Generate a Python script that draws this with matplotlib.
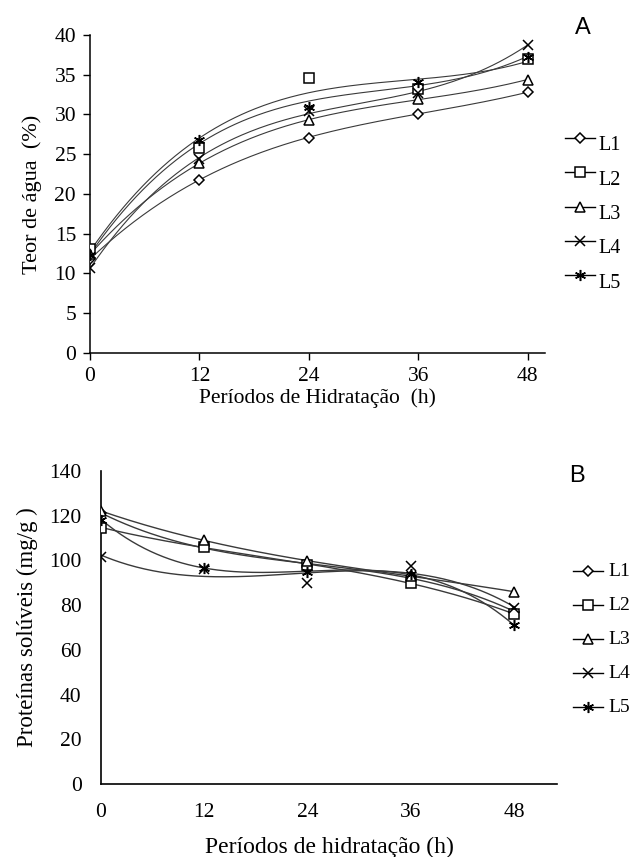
"""Teor de água (A) e proteínas solúveis (B) ao longo da hidratação, lotes L1-L5."""

import matplotlib

matplotlib.use("Agg")
import matplotlib.pyplot as plt  # noqa: E402
import numpy as np  # noqa: E402
from matplotlib.lines import Line2D  # noqa: E402

plt.rcParams["font.family"] = ["Liberation Serif", "DejaVu Serif"]

HOURS = [0, 12, 24, 36, 48]
LOTS = ["L1", "L2", "L3", "L4", "L5"]

# A) teor de água (%)
WATER_L1 = [11.8, 21.8, 27.1, 30.1, 32.8]
WATER_L2 = [13.1, 25.8, 34.6, 33.2, 37.0]
WATER_L3 = [12.4, 23.9, 29.3, 31.9, 34.4]
WATER_L4 = [10.7, 24.4, 30.4, 32.7, 38.8]
WATER_L5 = [12.3, 26.8, 31.0, 34.1, 37.2]

# B) proteínas solúveis (mg/g)
PROT_L1 = [121.0, 106.5, 97.1, 93.0, 77.0]
PROT_L2 = [114.7, 106.0, 98.0, 90.0, 76.0]
PROT_L3 = [122.1, 109.0, 99.8, 93.0, 86.0]
PROT_L4 = [101.6, 96.0, 89.7, 97.4, 78.5]
PROT_L5 = [118.3, 96.8, 94.9, 93.8, 71.0]

# marker per lot: diamond, square, triangle, x, asterisk
MARKERS = ["D", "s", "^", "x", (6, 2, 0)]
MSIZES = [5, 7, 7, 7, 8]
LINE_COL = "#3a3a3a"


def _series(ax, values, lw=0.8):
    """Open markers plus a cubic trendline (Excel-style) per lot."""
    xs = np.linspace(0, 48, 200)
    for vals, mk, ms in zip(values, MARKERS, MSIZES):
        coef = np.polyfit(HOURS, vals, 3)
        ax.plot(xs, np.polyval(coef, xs), color=LINE_COL, lw=lw, zorder=2)
        ax.plot(HOURS, vals, ls="none", marker=mk, ms=ms, mfc="white",
                mec="black", mew=1.1, zorder=3)


def _legend(fig, x0, y_top, dy, line_w, label_dx, label_dy, fs):
    """Hand-drawn legend in figure pixels: short line, marker, label."""
    W, H = fig.bbox.width, fig.bbox.height
    for i, (lab, mk, ms) in enumerate(zip(LOTS, MARKERS, MSIZES)):
        y = y_top + i * dy
        fig.add_artist(Line2D([x0 / W, (x0 + line_w) / W], [1 - y / H, 1 - y / H],
                              color="black", lw=1.0))
        fig.add_artist(Line2D([(x0 + line_w / 2) / W], [1 - y / H], ls="none",
                              marker=mk, ms=ms, mfc="white", mec="black", mew=1.1))
        fig.text((x0 + line_w + label_dx) / W, 1 - (y + label_dy) / H, lab,
                 fontsize=fs, va="center", ha="left")


fig = plt.figure(figsize=(6.30, 8.57), dpi=100)

# ---- A ----
axA = fig.add_axes([90 / 630, 1 - 353 / 857, 455 / 630, 318 / 857])
_series(axA, [WATER_L1, WATER_L2, WATER_L3, WATER_L4, WATER_L5])
axA.set_xlim(0, 49.9)
axA.set_ylim(0, 40)
axA.set_xticks(HOURS)
axA.set_yticks(range(0, 41, 5))
axA.tick_params(labelsize=15.5, length=5, width=1, direction="out", pad=5)
for s in ("top", "right"):
    axA.spines[s].set_visible(False)
for s in ("left", "bottom"):
    axA.spines[s].set_linewidth(1.1)
axA.set_ylabel("Teor de água  (%)", fontsize=16, labelpad=9)
axA.set_xlabel("Períodos de Hidratação  (h)", fontsize=15.5, labelpad=2)
fig.text(583 / 630, 1 - 28 / 857, "A", fontsize=17, family="Liberation Sans",
         ha="center", va="center")
_legend(fig, 565, 138, 34.3, 30, 3, 8, 14.5)

# ---- B ----
axB = fig.add_axes([101 / 630, 1 - 784 / 857, 456 / 630, 313 / 857])
_series(axB, [PROT_L1, PROT_L2, PROT_L3, PROT_L4, PROT_L5], lw=1.0)
axB.set_xlim(0, 53)
axB.set_ylim(0, 140)
axB.set_xticks(HOURS)
axB.set_yticks(range(0, 141, 20))
axB.tick_params(labelsize=15.5, length=0, pad=14)
for s in ("top", "right"):
    axB.spines[s].set_visible(False)
for s in ("left", "bottom"):
    axB.spines[s].set_linewidth(1.2)
axB.set_ylabel("Proteínas solúveis (mg/g )", fontsize=16.5, labelpad=8)
axB.set_xlabel("Períodos de hidratação (h)", fontsize=17, labelpad=10)
fig.text(577 / 630, 1 - 476 / 857, "B", fontsize=17, family="Liberation Sans",
         ha="center", va="center")
_legend(fig, 573, 571, 34, 30, 5, 0, 14)

fig.savefig("out.png", dpi=100)
plt.close(fig)
